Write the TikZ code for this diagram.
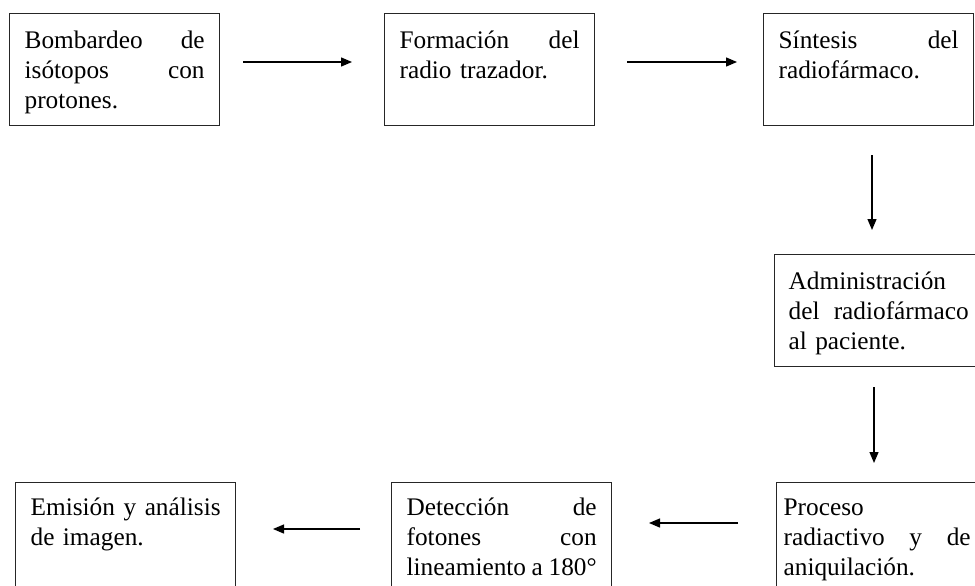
\documentclass[tikz,border=0pt]{standalone}
\usepackage{fontspec}
\setmainfont{Liberation Serif}
\usetikzlibrary{arrows.meta}
\tikzset{
  box/.style={draw=black!85, line width=1.3pt, rectangle, anchor=north west,
    inner ysep=0pt, inner xsep=15pt, text width=180pt,
    font=\fontsize{25.3}{30}\selectfont},
  toprow/.style={text height=35pt, text depth=77pt},
  botrow/.style={text height=33pt, text depth=110pt, text width=190pt},
  arr/.style={line width=1.3pt, draw=black, -{Triangle[length=11pt,width=9pt]}}
}
\begin{document}
\begin{tikzpicture}[x=1pt,y=-1pt]
\useasboundingbox (0,0) rectangle (975,586);
\clip (0,0) rectangle (975,586);
\fill[white] (0,0) rectangle (975,586);
% top row
\node[box,toprow] (b1) at (9,13) {Bombardeo\hfill de\\ isótopos\hfill con\\ protones.};
\node[box,toprow] (b2) at (384,13) {Formación\hfill del\\ radio trazador.};
\node[box,toprow] (b3) at (763,13) {Síntesis\hfill del\\ radiofármaco.};
% right column
\node[box,toprow,inner xsep=14pt] (b4) at (774,254) {Administración\\ del\hfill radiofármaco\\ al paciente.};
% bottom row
\node[box,botrow,text width=200pt,inner xsep=7pt] (b5) at (776,482) {\parbox[t]{187pt}{Proceso\\ radiactivo\hfill y\hfill de\\ aniquilación.}};
\node[box,botrow] (b6) at (391,482) {Detección\hfill de\\ fotones\hfill con\\ \hbox to 190pt{lineamiento\hfil a\hfil 180°}};
\node[box,botrow] (b7) at (15,482) {Emisión\hfill y\hfill análisis\\ de imagen.};
% arrow end points
\coordinate (a1s) at (243,62); \coordinate (a1e) at (352,62);
\coordinate (a2s) at (627,62); \coordinate (a2e) at (737,62);
\coordinate (a3s) at (872,155); \coordinate (a3e) at (872,230);
\coordinate (a4s) at (874,387); \coordinate (a4e) at (874,463);
\coordinate (a5s) at (738,523); \coordinate (a5e) at (649,523);
\coordinate (a6s) at (360,529); \coordinate (a6e) at (273,529);
\draw[arr] (a1s) -- (a1e);
\draw[arr] (a2s) -- (a2e);
\draw[arr] (a3s) -- (a3e);
\draw[arr] (a4s) -- (a4e);
\draw[arr] (a5s) -- (a5e);
\draw[arr] (a6s) -- (a6e);
\end{tikzpicture}
\end{document}
